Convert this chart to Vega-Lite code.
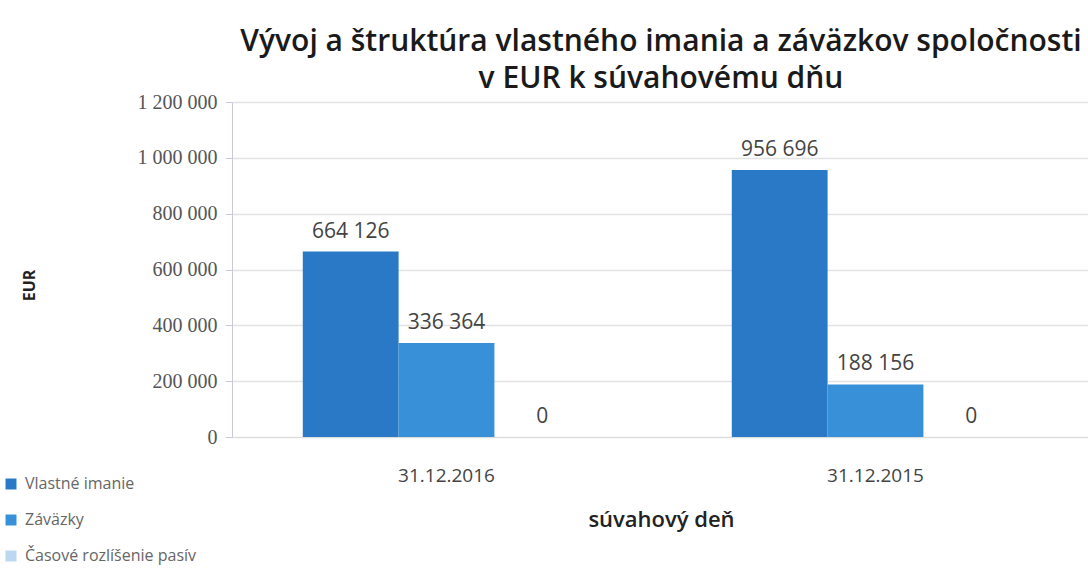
{
  "$schema": "https://vega.github.io/schema/vega-lite/v6.json",
  "autosize": "none",
  "width": 858,
  "height": 335,
  "padding": {"left": 232, "top": 102, "right": 0, "bottom": 132},
  "background": "white",
  "title": {
    "text": ["Vývoj a štruktúra vlastného imania a záväzkov spoločnosti", "v EUR k súvahovému dňu"],
    "fontSize": 30,
    "font": "Open Sans",
    "fontWeight": 600,
    "color": "#1a1a1a",
    "lineHeight": 37,
    "anchor": "middle",
    "offset": -2
  },
  "data": {
    "values": [
      {"den": "31.12.2016", "series": "Vlastné imanie", "value": 664126},
      {"den": "31.12.2016", "series": "Záväzky", "value": 336364},
      {"den": "31.12.2016", "series": "Časové rozlíšenie pasív", "value": 0},
      {"den": "31.12.2015", "series": "Vlastné imanie", "value": 956696},
      {"den": "31.12.2015", "series": "Záväzky", "value": 188156},
      {"den": "31.12.2015", "series": "Časové rozlíšenie pasív", "value": 0}
    ]
  },
  "encoding": {
    "x": {
      "field": "den",
      "type": "nominal",
      "sort": ["31.12.2016", "31.12.2015"],
      "scale": {"paddingInner": 0.33, "paddingOuter": 0.165},
      "axis": {
        "title": "súvahový deň",
        "titleFont": "Open Sans",
        "titleFontSize": 22,
        "titleFontWeight": 600,
        "titleColor": "#222222",
        "titlePadding": 24,
        "labelAngle": 0,
        "labelFont": "Open Sans",
        "labelFontSize": 19,
        "labelColor": "#444444",
        "labelPadding": 29,
        "ticks": false,
        "domainColor": "#dcdcdc",
        "grid": false
      }
    },
    "xOffset": {
      "field": "series",
      "type": "nominal",
      "sort": ["Vlastné imanie", "Záväzky", "Časové rozlíšenie pasív"],
      "scale": {"paddingInner": 0}
    },
    "y": {
      "field": "value",
      "type": "quantitative",
      "scale": {"domain": [0, 1200000]},
      "axis": {
        "title": "EUR",
        "titleFont": "Open Sans",
        "titleFontSize": 16,
        "titleFontWeight": "bold",
        "titleColor": "#222222",
        "titleX": -195,
        "titleY": 183,
        "values": [0, 200000, 400000, 600000, 800000, 1000000, 1200000],
        "format": ",d",
        "labelFont": "Liberation Serif",
        "labelFontSize": 20,
        "labelColor": "#555555",
        "labelPadding": 8,
        "tickColor": "#c8cadb",
        "tickSize": 7,
        "domainColor": "#c8cadb",
        "gridColor": "#e2e2e6",
        "gridWidth": 1.5
      }
    }
  },
  "layer": [
    {
      "mark": {"type": "bar"},
      "encoding": {
        "color": {
          "field": "series",
          "type": "nominal",
          "sort": ["Vlastné imanie", "Záväzky", "Časové rozlíšenie pasív"],
          "scale": {
            "domain": ["Vlastné imanie", "Záväzky", "Časové rozlíšenie pasív"],
            "range": ["#2a79c6", "#3890d9", "#bcd8f0"]
          },
          "legend": {
            "title": null,
            "orient": "none",
            "legendX": -229,
            "legendY": 374,
            "direction": "vertical",
            "symbolType": "square",
            "symbolSize": 120,
            "labelFont": "Open Sans",
            "labelFontSize": 16,
            "labelColor": "#666666",
            "labelLimit": 400,
            "rowPadding": 20,
            "labelOffset": 6
          }
        }
      }
    },
    {
      "mark": {"type": "text", "dy": -20, "font": "Open Sans", "fontSize": 21, "color": "#444444"},
      "encoding": {
        "text": {"field": "value", "type": "quantitative", "format": ",d"}
      }
    }
  ],
  "config": {
    "view": {"stroke": null},
    "locale": {
      "number": {"decimal": ",", "thousands": " ", "grouping": [3], "currency": ["", " €"]}
    }
  }
}
